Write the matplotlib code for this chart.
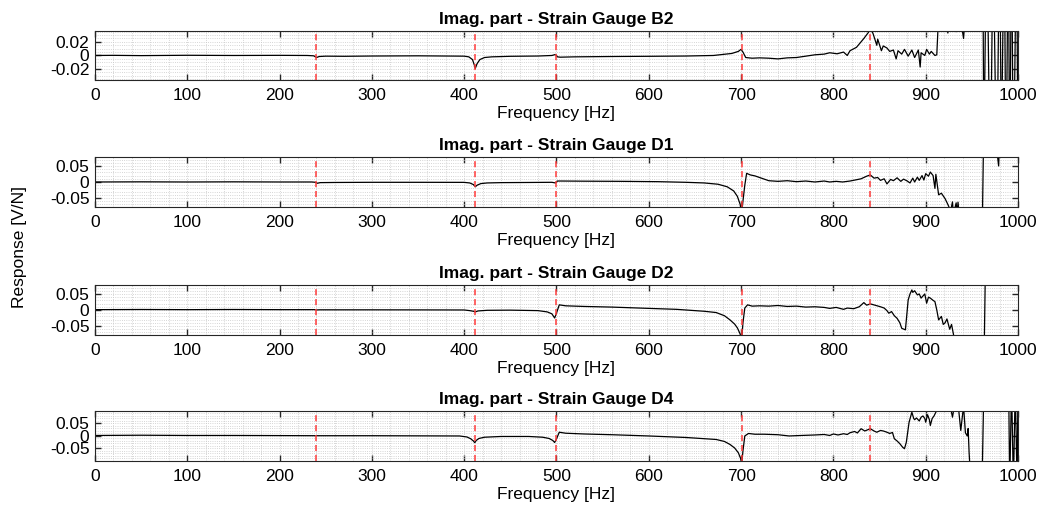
import numpy as np
import matplotlib
matplotlib.use("Agg")
import matplotlib.pyplot as plt
from matplotlib.ticker import MultipleLocator

plt.rcParams['font.family'] = ['Liberation Sans', 'DejaVu Sans']

gauges = ["B2", "D1", "D2", "D4"]
modes_hz = [240, 412, 499.5, 700.5, 840]
xticks_hz = list(range(0, 1001, 100))

# imaginary part of the FRF for each strain gauge (Hz, V/N)
f_b2 = [0, 20, 50, 100, 150, 200, 230, 237, 240, 243, 250, 270, 300, 350, 400,
        405, 409, 411, 412, 414, 417, 422, 430, 450, 480, 495, 499, 501, 504,
        520, 560, 600, 640, 670, 690, 697, 700, 702, 705, 712, 720, 730, 740,
        750, 760, 770, 780, 790, 796, 804, 811, 815, 818, 825, 833, 838, 840,
        843, 847, 848, 852, 854, 858, 861, 865, 868, 870, 874, 877, 881, 885,
        888, 892, 894, 895, 899, 901, 904, 906, 910, 912, 914, 918, 924, 926,
        930, 933, 936, 941, 944, 955, 962, 963, 966, 970, 973, 977, 980, 982,
        985, 987, 989.5, 991, 993, 995, 998.5, 1000]
v_b2 = [0.0, 0.0002, -0.0002, 0.0003, 0.0, 0.0002, 0.0, -0.0005, -0.003,
        -0.0015, -0.001, -0.0012, -0.0008, -0.0005, -0.001, -0.002, -0.006,
        -0.014, -0.019, -0.012, -0.006, -0.003, -0.002, -0.0012, -0.0008, 0.0,
        0.0015, -0.002, -0.0025, -0.002, -0.0015, -0.0012, -0.0008, 0.0, 0.003,
        0.006, 0.009, 0.005, -0.003, -0.004, -0.0035, -0.004, -0.005, -0.0035,
        -0.003, -0.001, 0.001, 0.002, 0.004, 0.0025, 0.005, 0.0, 0.007, 0.012,
        0.025, 0.034, 0.04, 0.032, 0.015, 0.024, 0.007, 0.014, 0.011, 0.006,
        0.008, -0.005, 0.007, 0.002, 0.009, -0.001, 0.008, -0.003, 0.008,
        -0.017, 0.004, 0.0, 0.009, 0.002, 0.006, 0.0, 0.001, 0.06, 0.08, 0.033,
        0.07, 0.09, 0.035, 0.07, 0.025, 0.08, 0.1, 0.12, -0.15, 0.2, -0.2,
        0.18, -0.2, 0.2, -0.15, 0.2, -0.2, 0.2, -0.2, 0.2, -0.2, 0.2, -0.2]

f_d1 = [0, 50, 100, 150, 200, 235, 239, 241, 244, 260, 300, 350, 400, 406, 410,
        412, 414, 418, 425, 440, 470, 495, 499, 501, 505, 530, 570, 610, 640,
        660, 675, 685, 692, 696, 699, 700.5, 702, 704, 706, 710, 715, 722, 730,
        740, 750, 760, 770, 780, 790, 796, 803, 810, 818, 825, 830, 836, 840,
        844, 848, 851, 855, 858, 862, 865, 869, 873, 876, 880, 883, 886, 888,
        891, 893, 896, 898, 900, 903, 905, 908, 910, 911, 914, 917, 921, 924,
        927, 929, 930, 933, 934, 935, 937, 950, 961, 963, 975, 979, 981, 1000]
v_d1 = [0.0, 0.0005, 0.0, 0.0005, 0.0, 0.0, -0.001, -0.004, -0.002, -0.0015,
        -0.001, -0.001, -0.0012, -0.003, -0.008, -0.015, -0.01, -0.005, -0.003,
        -0.002, -0.0015, -0.001, -0.003, 0.003, 0.003, 0.0025, 0.002, 0.001,
        -0.001, -0.003, -0.007, -0.015, -0.028, -0.045, -0.07, -0.1, -0.06,
        -0.01, 0.027, 0.022, 0.019, 0.012, 0.004, 0.002, 0.004, 0.001, 0.003,
        0.0, 0.003, 0.0, 0.002, 0.0, 0.003, 0.007, 0.01, 0.018, 0.022, 0.012,
        0.014, 0.005, 0.01, -0.006, 0.008, 0.004, 0.013, 0.002, 0.009, 0.003,
        -0.003, 0.012, 0.0, 0.015, 0.005, 0.02, 0.006, 0.026, 0.018, 0.031,
        0.02, -0.02, 0.024, -0.04, -0.035, -0.052, -0.07, -0.09, -0.062, -0.1,
        -0.065, -0.1, -0.063, -0.12, -0.15, -0.2, 0.2, 0.15, 0.05, 0.2, 0.18]

f_d2 = [0, 50, 100, 150, 200, 238, 240, 243, 300, 350, 400, 406, 410, 412, 415,
        425, 450, 480, 490, 495, 498, 500, 503, 510, 530, 560, 600, 630, 660,
        673, 682, 688, 693, 696, 699, 700.5, 702, 704, 707, 712, 720, 730, 740,
        750, 760, 770, 780, 790, 796, 803, 811, 815, 822, 828, 833, 836, 840,
        845, 851, 855, 858, 860, 863, 866, 869, 872, 874, 878, 881, 883, 885,
        886, 888, 891, 893, 895, 899, 901, 903, 905, 908, 910, 912, 914, 917,
        919, 921, 923, 926, 928, 931, 940, 963, 965, 1000]
v_d2 = [0.001, 0.0015, 0.001, 0.0015, 0.001, 0.001, 0.0, 0.0005, 0.0005, 0.0003,
        0.0, -0.002, -0.004, -0.006, -0.003, -0.001, -0.0005, -0.002, -0.006,
        -0.012, -0.025, -0.01, 0.016, 0.013, 0.011, 0.009, 0.005, 0.002, -0.004,
        -0.008, -0.018, -0.031, -0.044, -0.056, -0.075, -0.1, -0.04, 0.006,
        0.016, 0.012, 0.013, 0.012, 0.014, 0.011, 0.012, 0.009, 0.01, 0.008,
        0.005, 0.008, 0.002, 0.006, 0.004, 0.01, 0.023, 0.015, 0.019, 0.015,
        0.01, 0.006, -0.002, -0.01, -0.005, -0.018, -0.026, -0.04, -0.057,
        -0.062, 0.031, 0.05, 0.0625, 0.055, 0.06, 0.047, 0.05, 0.037, 0.05,
        0.021, 0.04, 0.037, 0.03, 0.026, 0.0, -0.031, -0.02, -0.045, -0.04,
        -0.028, -0.06, -0.045, -0.09, -0.15, -0.2, 0.2, 0.2]

f_d4 = [0, 50, 100, 150, 200, 240, 300, 350, 395, 403, 407, 410, 411.5, 413, 416,
        422, 440, 470, 485, 492, 496, 498, 500, 503, 510, 530, 560, 600, 640,
        673, 682, 688, 693, 697, 699.5, 700.7, 702, 704, 708, 715, 725, 740,
        752, 765, 780, 790, 796, 800, 805, 811, 815, 818, 823, 826, 830, 834,
        840, 844, 847, 851, 854, 858, 861, 864, 866, 869, 872, 875, 877, 879,
        882, 885, 887, 888, 890, 893, 895, 897, 899, 900, 902, 904, 905, 907,
        909, 911, 913, 925, 929, 932, 935, 938, 941, 943, 945, 946, 947, 948,
        955, 961, 963, 990, 991, 993, 995, 997, 999, 1000]
v_d4 = [0.002, 0.003, 0.002, 0.002, 0.0015, 0.001, 0.001, 0.0005, 0.0, -0.004,
        -0.011, -0.02, -0.027, -0.018, -0.01, -0.005, -0.002, -0.002, -0.005,
        -0.01, -0.018, -0.026, -0.012, 0.015, 0.011, 0.008, 0.005, 0.0, -0.006,
        -0.014, -0.022, -0.034, -0.048, -0.067, -0.09, -0.11, -0.06, 0.0, 0.01,
        0.007, 0.007, 0.005, 0.0, 0.002, 0.004, 0.006, 0.002, 0.008, 0.004,
        0.009, 0.006, 0.013, 0.018, 0.012, 0.029, 0.02, 0.029, 0.02, 0.015,
        0.022, 0.02, 0.015, 0.01, 0.014, -0.011, -0.02, -0.031, -0.045, -0.051,
        -0.025, 0.055, 0.095, 0.07, 0.065, 0.072, 0.06, 0.075, 0.08, 0.07,
        0.055, 0.085, 0.065, 0.042, 0.07, 0.08, 0.095, 0.13, 0.15, 0.075, 0.14,
        0.13, 0.022, 0.12, 0.013, 0.0, 0.03, -0.065, -0.13, -0.15, -0.2, 0.2,
        0.15, -0.2, 0.2, -0.2, 0.2, -0.2, 0.2]

freqs = [f_b2, f_d1, f_d2, f_d4]
values = [v_b2, v_d1, v_d2, v_d4]
ylims = [0.036, 0.078, 0.078, 0.1]
yticks = [[-0.02, 0, 0.02], [-0.05, 0, 0.05], [-0.05, 0, 0.05], [-0.05, 0, 0.05]]
yminor = [0.005, 0.01, 0.01, 0.01]

fig = plt.figure(figsize=(10.39, 5.13), dpi=100)
bottoms = [0.8441, 0.5965, 0.347, 0.1014]
heights = [0.0955, 0.0975, 0.0975, 0.0975]
fs = 12.5

for i, g in enumerate(gauges):
    ax = fig.add_axes([0.0914, bottoms[i], 0.8884, heights[i]])
    ax.plot(freqs[i], values[i], color="black", lw=0.9)
    for fm in modes_hz:
        ax.axvline(fm, color="#ff3b3b", ls=(0, (4, 2.5)), lw=1.1)
    ax.set_xlim(0, 1000)
    ax.set_ylim(-ylims[i], ylims[i])
    ax.set_xticks(xticks_hz)
    ax.set_xticklabels([str(t) for t in xticks_hz])
    ax.set_yticks(yticks[i])
    ax.set_yticklabels([("%g" % t) for t in yticks[i]])
    ax.xaxis.set_minor_locator(MultipleLocator(20))
    ax.yaxis.set_minor_locator(MultipleLocator(yminor[i]))
    ax.grid(True, which="both", color="#c8c8c8", ls=":", lw=0.6)
    ax.tick_params(which="major", direction="in", top=True, right=True,
                   length=4, width=1.0, color="#262626", labelsize=fs, pad=6)
    ax.tick_params(axis="y", pad=4)
    ax.tick_params(which="minor", length=0)
    for s in ax.spines.values():
        s.set_color("#262626")
        s.set_linewidth(0.8)
    ax.set_title("Imag. part - Strain Gauge " + g, fontsize=fs,
                 fontweight="bold", pad=5)
    ax.set_xlabel("Frequency [Hz]", fontsize=fs, labelpad=2)

fig.text(0.019, 0.518, "Response [V/N]", rotation=90, fontsize=fs,
         va="center", ha="center")

fig.savefig("out.png", dpi=100)
